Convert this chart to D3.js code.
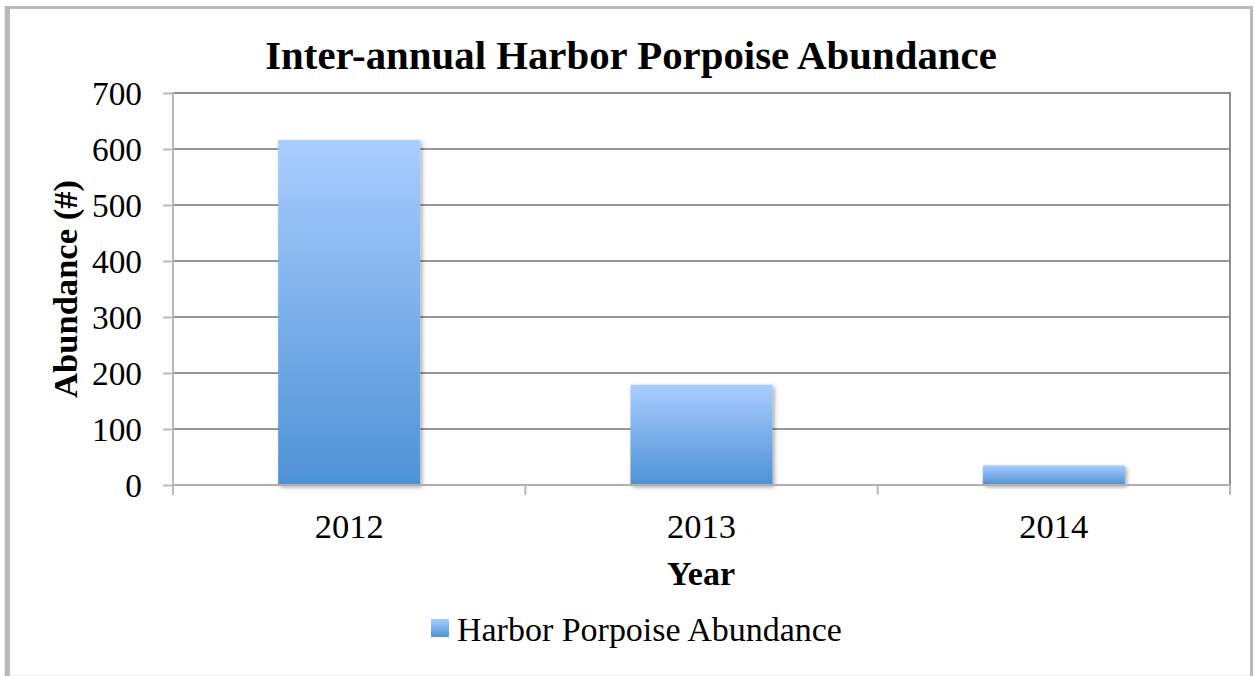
<!DOCTYPE html>
<html><head><meta charset="utf-8">
<script src="https://cdn.jsdelivr.net/npm/d3@7"></script>
<style>body{margin:0;background:#fff}svg{display:block}</style>
</head><body>
<svg id="c" width="1255" height="676"></svg>
<script>
const categories = ["2012", "2013", "2014"];
const values = [616, 179, 35];
const yTicks = [0, 100, 200, 300, 400, 500, 600, 700];
const seriesName = "Harbor Porpoise Abundance";
const title = "Inter-annual Harbor Porpoise Abundance";
const xTitle = "Year";
const yTitle = "Abundance (#)";

const svg = d3.select("#c");
const FONT = "'Liberation Serif', 'DejaVu Serif', serif";
const m = {l:173, t:93, r:1230, b:485};

const defs = svg.append("defs");
const grad = defs.append("linearGradient").attr("id","bg").attr("x1",0).attr("y1",0).attr("x2",0).attr("y2",1);
grad.append("stop").attr("offset","0%").attr("stop-color","#a9cdfe");
grad.append("stop").attr("offset","100%").attr("stop-color","#4e92d6");
const f = defs.append("filter").attr("id","sh").attr("x","-10%").attr("y","-10%").attr("width","130%").attr("height","130%");
f.append("feDropShadow").attr("dx",2).attr("dy",2).attr("stdDeviation",2).attr("flood-color","#000").attr("flood-opacity",0.35);

function fit(sel, w){ const n=sel.node(); const cur=+sel.attr("font-size"); const L=n.getComputedTextLength(); sel.attr("font-size", cur*w/L); }

// outer frame
svg.append("rect").attr("x",0).attr("y",0).attr("width",1255).attr("height",676).attr("fill","#fff");
svg.append("line").attr("x1",3).attr("x2",1255).attr("y1",675.5).attr("y2",675.5).attr("stroke","#eeeeee");
svg.append("line").attr("x1",4.5).attr("x2",4.5).attr("y1",6).attr("y2",676).attr("stroke","#e8e8e8");
svg.append("rect").attr("x",5).attr("y",6).attr("width",5).attr("height",670).attr("fill","#b9b9b9");
svg.append("rect").attr("x",5).attr("y",6).attr("width",1248).attr("height",3).attr("fill","#b9b9b9");
svg.append("rect").attr("x",1250).attr("y",6).attr("width",3).attr("height",670).attr("fill","#b9b9b9");

const x = d3.scaleBand().domain(categories).range([m.l, m.r]).paddingInner(0.597).paddingOuter(0.2985);
const xb = d3.scaleBand().domain(categories).range([m.l, m.r]);
const y = d3.scaleLinear().domain([0, 700]).range([m.b, m.t]);

// gridlines
svg.append("g").selectAll("line").data(yTicks.filter(d=>d>0)).join("line")
  .attr("x1", m.l).attr("x2", m.r).attr("y1", d=>y(d)).attr("y2", d=>y(d))
  .attr("stroke", d=> d===700 ? "#8e8e8e" : "#979797").attr("stroke-width",2);
// right border
svg.append("line").attr("x1",m.r).attr("x2",m.r).attr("y1",m.t-1).attr("y2",m.b).attr("stroke","#8e8e8e").attr("stroke-width",2);

// bars
svg.append("g").selectAll("rect").data(values).join("rect")
  .attr("x",(d,i)=>x(categories[i])).attr("width",x.bandwidth())
  .attr("y",d=>y(d)).attr("height",d=>y(0)-y(d))
  .attr("fill","url(#bg)").attr("filter","url(#sh)");

// y axis
const ya = d3.axisLeft(y).tickValues(yTicks).tickSize(10).tickFormat(d3.format("d"));
const yg = svg.append("g").attr("transform",`translate(${m.l},0)`).call(ya);
yg.select(".domain").attr("stroke","#b8b8b8").attr("stroke-width",2).attr("d",`M0,${m.t-1}V${m.b+10}`);
yg.selectAll(".tick line").attr("stroke","#b8b8b8").attr("stroke-width",2);
yg.selectAll(".tick text").attr("x",-31).attr("dy","0.34em").attr("font-family",FONT).attr("font-size",31).attr("fill","#000");
const y7 = yg.selectAll(".tick text").filter(d=>d===700);
const ys = 31*50/y7.node().getComputedTextLength();
yg.selectAll(".tick text").attr("font-size", ys);

// x axis
const xg = svg.append("g").attr("transform",`translate(0,${m.b})`);
xg.append("line").attr("x1",m.l).attr("x2",m.r).attr("stroke","#b0b0b0").attr("stroke-width",2);
const bounds = categories.map(c=>xb(c)).concat([m.r]);
xg.selectAll(".bt").data(bounds).join("line").attr("class","bt")
  .attr("x1",d=>d).attr("x2",d=>d).attr("y1",0).attr("y2",10).attr("stroke","#b8b8b8").attr("stroke-width",2);
const xa = d3.axisBottom(x).tickSize(0);
const xl = svg.append("g").attr("transform",`translate(0,${m.b})`).call(xa);
xl.select(".domain").remove();
xl.selectAll(".tick text").attr("y",53).attr("dy",0).attr("font-family",FONT).attr("font-size",31).attr("fill","#000");
const xs = 31*69/xl.select(".tick text").node().getComputedTextLength();
xl.selectAll(".tick text").attr("font-size", xs);

// title
const t = svg.append("text").attr("x",631).attr("y",69).attr("text-anchor","middle")
  .attr("font-family",FONT).attr("font-weight","bold").attr("font-size",37).attr("fill","#000").text(title);
fit(t, 732);

// axis titles
const xt = svg.append("text").attr("x",701).attr("y",585).attr("text-anchor","middle")
  .attr("font-family",FONT).attr("font-weight","bold").attr("font-size",31).attr("fill","#000").text(xTitle);
fit(xt, 68);
const yt = svg.append("text").attr("transform",`translate(77,289) rotate(-90)`).attr("text-anchor","middle")
  .attr("font-family",FONT).attr("font-weight","bold").attr("font-size",31).attr("fill","#000").text(yTitle);
fit(yt, 218);

// legend
const lg = svg.append("g");
lg.append("rect").attr("x",431).attr("y",619).attr("width",18).attr("height",18).attr("fill","url(#bg)");
const lt = lg.append("text").attr("x",457).attr("y",641).attr("font-family",FONT).attr("font-size",31).attr("fill","#000").text(seriesName);
fit(lt, 385);
</script>
</body></html>
